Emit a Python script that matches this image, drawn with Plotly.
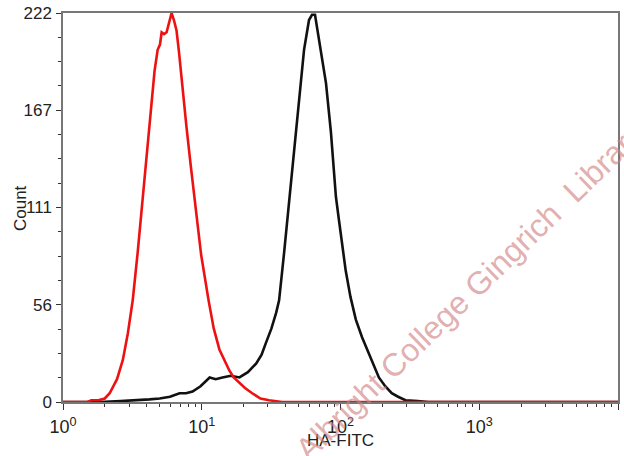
import plotly.graph_objects as go

# Red histogram (isotype / control)
red_x = [1.0, 1.5, 1.6, 1.8, 2.0, 2.17, 2.45, 2.70, 2.93, 3.18, 3.45, 3.75, 4.05, 4.35, 4.57,
         4.81, 5.0, 5.14, 5.35, 5.58, 5.8, 6.06, 6.3, 6.58, 6.85, 7.14, 7.76, 8.3, 8.87, 9.9,
         11.2, 12.2, 13.4, 14.5, 15.8, 17.0, 18.7, 20.5, 23.1, 26.5, 30.6, 37.9, 60, 200, 1000, 10000]
red_y = [0, 0, 1, 1, 2, 5, 13, 24, 39, 58, 85, 115, 142, 167, 189,
         201, 204, 211, 210, 211, 216, 222, 218, 212, 200, 185, 157, 136, 115, 84,
         58, 42, 30, 24, 18, 14, 11, 8, 5, 2, 1, 0, 0, 0, 0, 0]

# Black histogram (HA-FITC stained)
black_x = [1.0, 1.84, 2.6, 3.57, 4.2, 4.97, 5.9, 6.92, 7.7, 8.58, 9.8, 11.4, 12.6, 14.1, 16.2,
           18.7, 21.5, 24.7, 27.0, 29.1, 31.8, 34.4, 36.1, 39.2, 42.6, 46.3, 50.3, 54.6, 59.3,
           62.3, 65.5, 70.0, 74.0, 78.6, 85.3, 92.7, 97.4, 103, 109, 118, 129, 143, 160, 174,
           189, 210, 234, 260, 294, 360, 431, 1000, 10000]
black_y = [0, 0, 0.5, 1, 1.5, 2, 3, 5, 5, 6, 9, 14, 13, 14, 15,
           14, 17, 22, 27, 34, 42, 51, 58, 85, 115, 145, 172, 201, 218,
           221, 221, 207, 195, 182, 154, 117, 104, 90, 75, 60, 47, 37, 28, 21,
           14, 9, 5, 3, 1, 0.5, 0, 0, 0]

y_ticks = [0, 55.5, 111, 166.5, 222]
y_labels = ["0", "56", "111", "167", "222"]
x_ticks = [1, 10, 100, 1000, 10000]
x_labels = ["10<sup>0</sup>", "10<sup>1</sup>", "10<sup>2</sup>", "10<sup>3</sup>", "10<sup>4</sup>"]
x_minor = [m * 10 ** k for k in range(4) for m in range(2, 10)]
y_minor = [i * 222 / 16 for i in range(17) if i % 4 != 0]

FONT = "Arial, Liberation Sans, sans-serif"

fig = go.Figure()
fig.add_trace(go.Scatter(x=black_x, y=black_y, mode="lines",
                         line=dict(color="#111111", width=2.6), showlegend=False))
fig.add_trace(go.Scatter(x=red_x, y=red_y, mode="lines",
                         line=dict(color="#ee1111", width=2.6), showlegend=False))

fig.update_layout(
    width=624, height=456,
    margin=dict(l=63, r=4, t=13, b=54),
    paper_bgcolor="white", plot_bgcolor="white",
    font=dict(family=FONT, color="#222222"),
    xaxis=dict(
        type="log", range=[0, 4],
        tickmode="array", tickvals=x_ticks, ticktext=x_labels,
        ticks="outside", ticklen=6, tickwidth=1, tickcolor="#333",
        tickfont=dict(size=18, color="#222"),
        ticklabelstandoff=2,
        minor=dict(tickmode="array", tickvals=x_minor, ticks="outside",
                   ticklen=3, tickwidth=1, tickcolor="#333", showgrid=False),
        showgrid=False, zeroline=False,
        showline=True, linecolor="#777", linewidth=1.5, mirror=True,
    ),
    yaxis=dict(
        range=[0, 222],
        tickmode="array", tickvals=y_ticks, ticktext=y_labels,
        ticks="outside", ticklen=5, tickwidth=1, tickcolor="#333",
        tickfont=dict(size=17, color="#222"),
        ticklabelstandoff=1,
        minor=dict(tickmode="array", tickvals=y_minor, ticks="outside",
                   ticklen=3, tickwidth=1, tickcolor="#333", showgrid=False),
        showgrid=False, zeroline=False,
        showline=True, linecolor="#777", linewidth=1.5, mirror=True,
    ),
)

# Axis titles
fig.add_annotation(x=-0.0754, y=0.499, xref="paper", yref="paper",
                   xanchor="center", yanchor="middle",
                   text="Count", textangle=-90, showarrow=False,
                   font=dict(family=FONT, size=17, color="#222"))
fig.add_annotation(x=0.5, y=-0.100, xref="paper", yref="paper",
                   xanchor="center", yanchor="middle",
                   text="HA-FITC", showarrow=False,
                   font=dict(family=FONT, size=17, color="#222"))

# Watermark
fig.add_annotation(
    x=2.936, y=63.4, xref="x", yref="y",
    xanchor="center", yanchor="middle",
    text="Albright College Gingrich  Library",
    textangle=-44, showarrow=False,
    font=dict(family=FONT, size=32, color="rgba(210,130,130,0.65)"),
)

fig.write_html("out.html")
